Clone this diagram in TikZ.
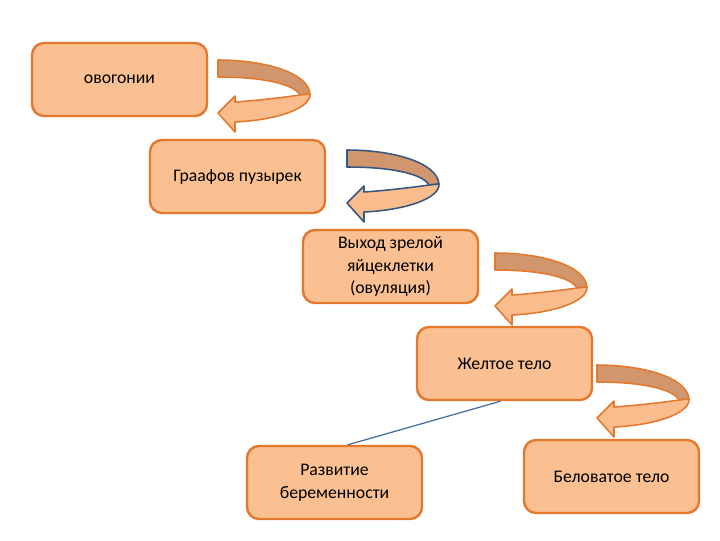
\documentclass[tikz,border=0pt]{standalone}
\usepackage{fontspec}
\setmainfont{Carlito}
\definecolor{boxfill}{RGB}{250,192,145}
\definecolor{boxline}{RGB}{228,120,45}
\definecolor{bandback}{RGB}{210,150,108}
\definecolor{bandfront}{RGB}{250,188,140}
\definecolor{bluelink}{RGB}{70,110,160}
\definecolor{blueline}{RGB}{56,86,130}
\tikzset{
  stage/.style={rectangle, rounded corners=0.3cm, draw=boxline, line width=1.7pt,
    fill=boxfill, minimum width=4.375cm, minimum height=1.825cm, align=center,
    font=\fontsize{12.6}{16.3}\selectfont},
  pics/curvarrow/.style={code={
    \filldraw[fill=bandback, draw=#1, line width=1.1pt, line join=round]
      (0,0) .. controls (45,0) and (90,12) .. (92,34) -- (82,35)
      .. controls (76,24) and (45,17) .. (0,17) -- cycle;
    \filldraw[fill=bandfront, draw=#1, line width=1.1pt, line join=round]
      (17,42) .. controls (45,40) and (68,37) .. (82,35) -- (92,34)
      .. controls (93,48) and (60,60) .. (17,62) -- (17,72) -- (0,53) -- (17,36) -- cycle;
  }}
}
\begin{document}
\begin{tikzpicture}[x=0.025cm, y=-0.025cm]
  \useasboundingbox (0,0) rectangle (720,540);

  % stages
  \node[stage] (ovog)  at (119.5,79.5)  {овогонии};
  \node[stage] (graaf) at (237.5,176.5) {Граафов пузырек};
  \node[stage] (vyhod) at (390.5,266.5) {Выход зрелой\\яйцеклетки\\(овуляция)};
  \node[stage] (zhelt) at (504.5,363.5) {Желтое тело};
  \node[stage] (razv)  at (334.5,482.5) {Развитие\\беременности};
  \node[stage] (belov) at (611.5,476.5) {Беловатое тело};

  % curved arrows
  \pic at (218,60)  {curvarrow=boxline};
  \pic at (347,150) {curvarrow=blueline};
  \pic at (495,253) {curvarrow=boxline};
  \pic at (597,365) {curvarrow=boxline};

  \draw[bluelink, line width=0.9pt] ([xshift=-0.1cm]zhelt.south) -- ([xshift=0.33cm]razv.north);

\end{tikzpicture}
\end{document}
